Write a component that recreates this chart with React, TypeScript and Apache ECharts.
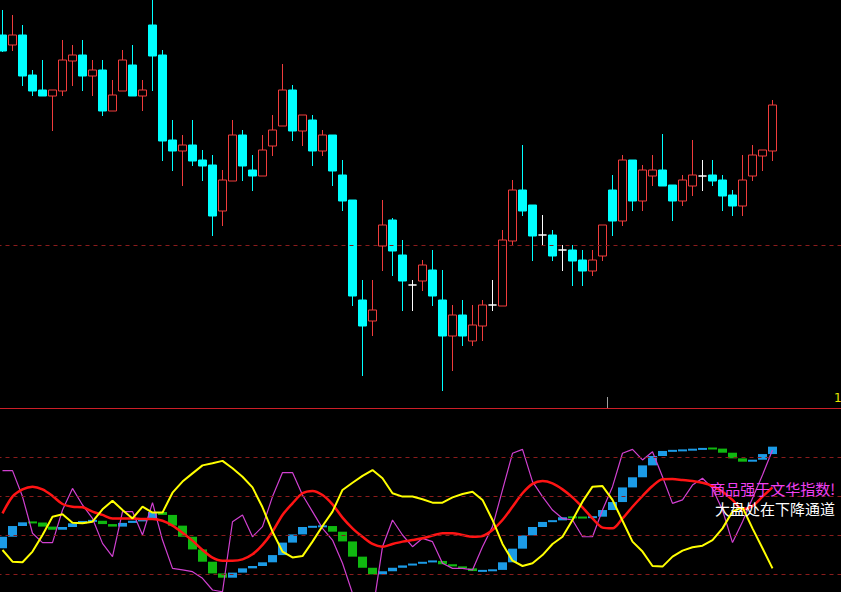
import React, { useEffect, useRef } from 'react';
import * as echarts from 'echarts';

const W = 841;
const H = 592;

// ---- top panel: candlesticks (price units) ----
const OPEN = [465,455,465,425,410,404,409,439,445,424,430,389,409,435,404,475,445,360,349,355,340,335,289,319,365,330,324,354,374,410,369,380,349,365,325,300,200,179,254,280,245,215,219,230,200,164,185,159,174,195,194,259,310,295,265,265,250,250,240,229,244,310,279,340,299,324,330,315,299,314,324,325,320,305,294,324,344,349];
const CLOSE = [449,465,424,409,404,410,440,445,424,430,389,405,440,404,410,444,359,349,355,339,334,284,320,365,334,324,350,370,410,369,385,349,365,329,299,204,174,190,275,249,219,215,235,204,164,185,164,175,195,195,260,310,289,264,265,244,250,239,229,240,275,279,340,299,330,330,314,299,320,325,324,319,304,294,320,345,350,395];
const LOW = [448,449,414,404,404,369,404,414,409,404,384,389,409,404,389,409,339,329,314,334,319,264,274,319,319,309,324,344,374,359,354,334,344,314,289,194,124,164,229,224,189,189,209,194,109,129,154,154,159,189,194,254,284,239,254,239,229,214,214,224,239,264,274,289,289,314,314,279,294,304,309,314,289,284,284,319,329,339];
const HIGH = [490,485,475,430,440,410,460,455,460,440,440,420,450,455,420,500,450,380,365,380,350,345,330,380,370,345,365,385,436,415,385,385,370,365,340,300,220,220,300,282,260,220,240,250,230,195,200,195,200,220,270,320,355,295,285,270,255,255,250,250,275,325,345,340,335,345,366,315,325,360,340,340,325,310,345,355,350,400];
const PRICE_MIN = 91;
const PRICE_MAX = 500;
const PRICE_REF_LEVEL = 255;

// ---- bottom panel: indicator (0-100) ----
const YELLOW = [32.3,26.3,26.0,31.5,40.0,49.4,50.6,46.3,46.0,46.8,53.2,57.6,52.8,48.5,54.5,51.5,51.5,61.7,67.4,71.6,75.7,76.8,78.0,74.2,69.9,64.4,54.2,41.7,31.5,28.5,29.2,36.6,44.6,52.0,63.1,66.8,70.3,73.3,69.1,61.4,59.7,59.7,58.3,56.6,56.6,59.3,61.0,62.2,58.0,47.7,35.4,26.8,24.1,25.5,29.7,35.4,39.1,47.7,57.1,64.8,65.1,58.0,47.3,36.6,31.5,24.1,23.8,28.9,32.0,33.7,34.5,37.4,43.4,52.0,54.2,43.4,33.2,22.9];
const RED = [51.1,59.7,63.4,64.8,63.4,60.0,55.9,54.5,54.2,52.0,50.3,48.5,48.5,48.5,48.2,48.2,47.3,44.8,41.2,37.1,32.3,28.4,26.8,26.8,27.5,30.1,34.9,41.7,50.3,56.2,61.4,62.6,60.5,55.7,48.9,43.4,39.1,35.4,34.0,35.4,36.6,37.4,38.3,39.7,40.9,40.9,40.0,39.1,39.5,42.6,47.7,54.5,61.4,66.2,67.7,66.5,63.4,59.3,54.2,48.5,43.8,43.4,48.5,54.5,60.0,65.1,68.6,68.7,68.2,67.7,66.8,65.1,62.2,58.0,53.2,54.9,59.7,64.4];
const MAGENTA = [73.0,73.0,59.7,40.9,36.1,36.1,52.8,63.9,55.4,48.5,35.7,28.9,52.0,52.0,40.0,56.6,37.4,22.9,22.1,21.2,17.8,11.8,10.9,46.8,50.3,39.1,44.3,59.7,72.0,72.0,60.5,52.0,43.4,37.4,25.5,10.1,0,0,34.0,47.7,40.0,34.0,38.3,36.6,25.5,22.9,22.9,22.1,34.0,44.3,63.1,81.9,83.9,67.4,59.7,52.8,48.5,47.7,39.1,39.1,52.8,64.8,81.9,83.9,78.5,82.7,69.9,56.2,58.0,65.6,69.1,63.9,52.8,36.1,46.8,58.8,70.8,83.6];
const STEP_START = 33.2;
const STEP = [39.1,44.6,46.5,46.4,44.3,42.7,44.1,46.0,47.2,47.3,45.6,44.3,46.2,47.3,47.7,51.8,50.3,44.8,39.1,32.6,26.3,20.3,18.1,20.7,22.9,24.1,26.0,29.7,36.1,40.3,44.1,44.3,44.6,41.7,36.7,28.9,23.2,19.8,21.4,23.2,24.4,25.3,26.2,26.7,25.0,23.9,22.9,21.5,21.7,22.1,26.0,33.0,39.8,44.1,46.7,47.5,49.1,49.0,48.9,49.4,52.8,56.9,64.4,69.6,75.7,80.5,83.1,83.2,83.6,83.9,84.4,84.3,82.2,79.3,77.6,78.6,81.5,85.3];
const IND_LEVELS = [20, 40, 60, 80];

const MSG1 = '商品强于文华指数!';
const MSG2 = '大盘处在下降通道';
const EDGE_LABEL = '1';

const CAT_COUNT = 85;

export default function App() {
  const ref = useRef<HTMLDivElement>(null);
  useEffect(() => {
    document.body.style.margin = '0';
    document.body.style.background = '#000';
    const chart = echarts.init(ref.current!, null, { renderer: 'svg' });
    const cats = Array.from({ length: CAT_COUNT }, (_, i) => String(i + 1));
    const candleData = OPEN.map((o, i) => [o, CLOSE[i], LOW[i], HIGH[i]]);
    const blockData = STEP.map((v, i) => [i, i === 0 ? STEP_START : STEP[i - 1], v]);
    const hiddenAxis = {
      axisLine: { show: false }, axisTick: { show: false }, axisLabel: { show: false }, splitLine: { show: false },
    };
    const dashStyle = { color: '#8a1c1c', type: [4, 4] as any, width: 1 };
    chart.setOption({
      animation: false,
      backgroundColor: '#000000',
      grid: [
        { show: false, left: -2.5, top: 0, width: 850, height: 409, outerBoundsMode: 'none', containLabel: false },
        { show: false, left: -2.5, top: 418, width: 850, height: 195, outerBoundsMode: 'none', containLabel: false },
      ],
      xAxis: [
        { type: 'category', gridIndex: 0, data: cats, boundaryGap: true, ...hiddenAxis },
        { type: 'category', gridIndex: 1, data: cats, boundaryGap: true, ...hiddenAxis },
      ],
      yAxis: [
        { type: 'value', gridIndex: 0, min: PRICE_MIN, max: PRICE_MAX, ...hiddenAxis },
        { type: 'value', gridIndex: 1, min: 0, max: 100, ...hiddenAxis },
      ],
      series: [
        {
          type: 'candlestick', xAxisIndex: 0, yAxisIndex: 0, data: candleData, barWidth: 8, clip: false,
          itemStyle: {
            color: '#000000', color0: '#00ffff', borderColor: '#f03c3c', borderColor0: '#00ffff',
            borderColorDoji: '#ffffff', borderWidth: 1,
          },
          markLine: { symbol: 'none', silent: true, label: { show: false }, emphasis: { disabled: true },
            data: [
              { yAxis: PRICE_REF_LEVEL, lineStyle: dashStyle },
              { yAxis: PRICE_MIN + 0.5, lineStyle: { color: '#cc1f28', opacity: 1, type: 'solid', width: 1 } },
            ] },
        },
        {
          type: 'line', xAxisIndex: 1, yAxisIndex: 1, data: [], z: 1,
          markLine: { symbol: 'none', silent: true, label: { show: false }, lineStyle: dashStyle,
            data: IND_LEVELS.map((v) => ({ yAxis: v })) },
        },
        {
          type: 'custom', xAxisIndex: 1, yAxisIndex: 1, data: blockData, z: 2,
          encode: { x: 0, y: [1, 2] },
          renderItem: (params: any, api: any) => {
            const x = api.value(0);
            const a = api.value(1);
            const b = api.value(2);
            const p1 = api.coord([x, a]);
            const p2 = api.coord([x, b]);
            const w = api.size([1, 0])[0] * 0.9;
            let top = Math.min(p1[1], p2[1]);
            let h = Math.abs(p1[1] - p2[1]);
            if (h < 2) { top = (p1[1] + p2[1]) / 2 - 1; h = 2; }
            return {
              type: 'rect',
              shape: { x: p1[0] - w / 2, y: top, width: w, height: h },
              style: { fill: b >= a ? '#1c9be6' : '#10b810' },
            };
          },
        },
        { type: 'line', xAxisIndex: 1, yAxisIndex: 1, data: MAGENTA, showSymbol: false, z: 3,
          lineStyle: { color: '#d040d0', width: 1.2 } },
        { type: 'line', xAxisIndex: 1, yAxisIndex: 1, data: RED, showSymbol: false, z: 4, smooth: 0.3,
          lineStyle: { color: '#ff1414', width: 2.5 } },
        { type: 'line', xAxisIndex: 1, yAxisIndex: 1, data: YELLOW, showSymbol: false, z: 5,
          lineStyle: { color: '#ffff00', width: 2 } },
      ],
      graphic: [
        { type: 'line', silent: true, shape: { x1: 607.5, y1: 397, x2: 607.5, y2: 409 },
          style: { stroke: '#a0a0a0', lineWidth: 1 } },
        { type: 'text', silent: true, x: 834, y: 398,
          style: { text: EDGE_LABEL, fill: '#e8e800', font: '12px "DejaVu Sans"', verticalAlign: 'middle', align: 'left' } },
        { type: 'text', silent: true, z: 100, x: 835, y: 488,
          style: { text: MSG1, fill: '#f040f0', font: '15px "Noto Sans CJK SC"', align: 'right', verticalAlign: 'middle' } },
        { type: 'text', silent: true, z: 100, x: 835, y: 508,
          style: { text: MSG2, fill: '#ffffff', font: '15px "Noto Sans CJK SC"', align: 'right', verticalAlign: 'middle' } },
      ],
    });
    return () => chart.dispose();
  }, []);
  return <div ref={ref} style={{ position: 'fixed', left: 0, top: 0, width: W, height: H, background: '#000' }} />;
}
